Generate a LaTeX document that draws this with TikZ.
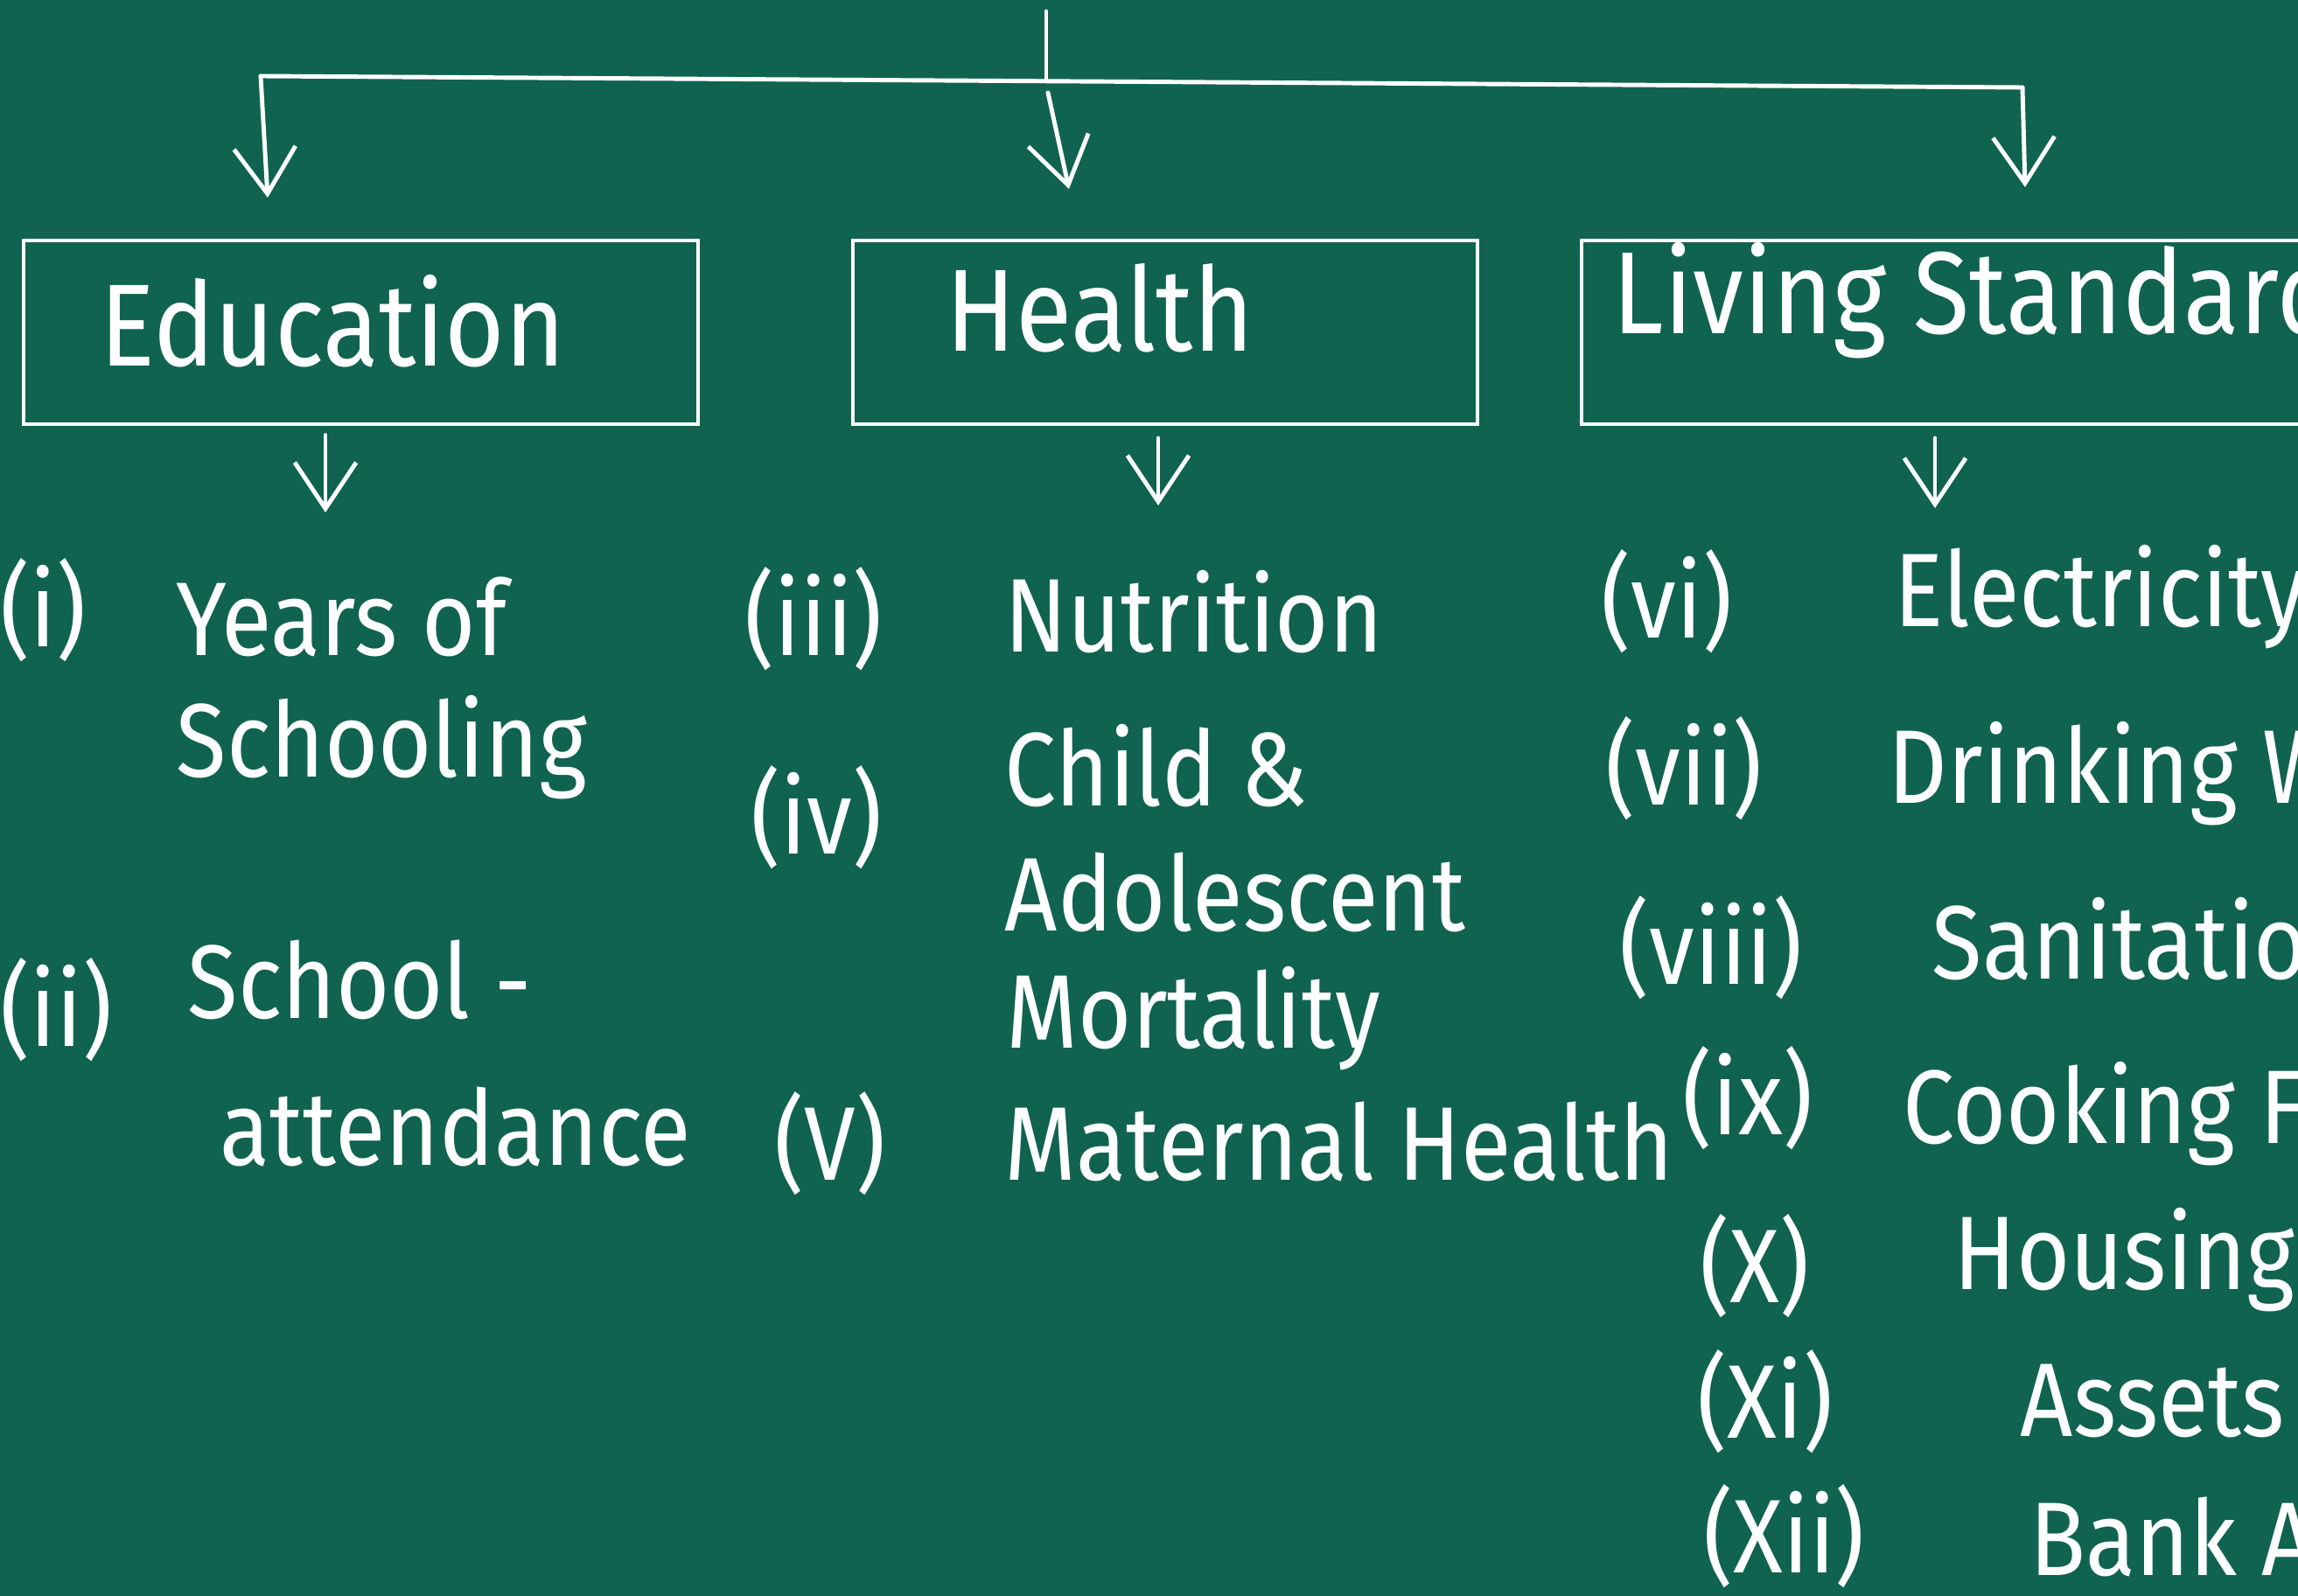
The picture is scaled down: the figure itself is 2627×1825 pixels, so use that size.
\documentclass[tikz,border=0pt]{standalone}
\usepackage{fontspec}
\setmainfont[FakeStretch=0.88]{Fira Sans}
\usetikzlibrary{arrows.meta, positioning}
\definecolor{board}{RGB}{16,99,79}

\begin{document}
\begin{tikzpicture}[x=0.01cm, y=-0.01cm,
    chalk/.style={white, line width=1.4pt, line cap=round},
    chalkarrow/.style={chalk, -{Straight Barb[length=15pt, width=20pt]}},
    catbox/.style={draw=white, line width=1.1pt, minimum height=2.1cm, inner sep=0pt, anchor=north west},
    headtxt/.style={white, font=\fontsize{38}{44}\selectfont, anchor=base west, inner sep=0pt},
    itemtxt/.style={white, font=\fontsize{34}{40}\selectfont, anchor=base west, inner sep=0pt}]
    \useasboundingbox (0,0) rectangle (2627,1825);
    \clip (0,0) rectangle (2627,1825);
    \fill[board] (0,0) rectangle (2627,1825);% board

    \coordinate (Top)  at (1196,13);
    \coordinate (BarM) at (1196,92);
    \coordinate (BarL) at (298,87);
    \coordinate (BarR) at (2312,100);
    \coordinate (EduTip) at (306,226);
    \coordinate (HeaTop) at (1198,106);
    \coordinate (HeaTip) at (1222,216);
    \coordinate (LivTip) at (2315,214);

    % category boxes
    \node[catbox, minimum width=7.71cm] (edubox) at (25,273) {};
    \node[catbox, minimum width=7.14cm] (heabox) at (973,273) {};
    \node[catbox, minimum width=9.5cm]  (livbox) at (1806,273) {};
    \node[headtxt] (edutxt) at (114,419) {Education};
    \node[headtxt] (heatxt) at (1081,402) {Health};
    \node[headtxt] (livtxt) at (1843,382) {Living Standards};

    % branches from the top
    \draw[chalk] (Top) -- (BarM);
    \draw[chalk] (BarL) -- (BarR);
    \draw[chalkarrow] (BarL) -- (EduTip);
    \draw[chalkarrow] (HeaTop) -- (HeaTip);
    \draw[chalkarrow] (BarR) -- (LivTip);

    \coordinate (EduDown) at (372,586);
    \coordinate (HeaDown) at (1324,578);
    \coordinate (LivDown) at (2212,581);
    \draw[chalkarrow, shorten <=3pt] (edubox.south -| EduDown) -- (EduDown);
    \draw[chalkarrow, shorten <=4pt] (heabox.south -| HeaDown) -- (HeaDown);
    \draw[chalkarrow, shorten <=4pt] (livbox.south -| LivDown) -- (LivDown);

    % education
    \node[itemtxt] (n1)  at (0,739)   {(i)};
    \node[itemtxt] (i1a) at (201,750) {Years of};
    \node[itemtxt] (i1b) at (201,888) {Schooling};
    \node[itemtxt] (n2)  at (0,1196)  {(ii)};
    \node[itemtxt] (i2a) at (214,1164) {School -};
    \node[itemtxt] (i2b) at (251,1332) {attendance};

    % health
    \node[itemtxt] (n3)  at (851,750)  {(iii)};
    \node[itemtxt] (i3)  at (1148,745) {Nutrition};
    \node[itemtxt] (n4)  at (858,976)  {(iv)};
    \node[itemtxt] (i4a) at (1148,921) {Child \&};
    \node[itemtxt] (i4b) at (1148,1064) {Adolescent};
    \node[itemtxt] (i4c) at (1150,1198) {Mortality};
    \node[itemtxt] (n5)  at (885,1349) {(V)};
    \node[itemtxt] (i5)  at (1148,1349) {Maternal Health};

    % living standards
    \node[itemtxt] (n6)  at (1830,730)  {(vi)};
    \node[itemtxt] (i6)  at (2165,717)  {Electricity};
    \node[itemtxt] (n7)  at (1835,920)  {(vii)};
    \node[itemtxt] (i7)  at (2158,918)  {Drinking Water};
    \node[itemtxt] (n8)  at (1851,1125) {(viii)};
    \node[itemtxt] (i8)  at (2208,1119) {Sanitation};
    \node[itemtxt] (n9)  at (1923,1297) {(ix)};
    \node[itemtxt] (i9)  at (2175,1307) {Cooking Fuel};
    \node[itemtxt] (n10) at (1943,1489) {(X)};
    \node[itemtxt] (i10) at (2233,1474) {Housing};
    \node[itemtxt] (n11) at (1940,1644) {(Xi)};
    \node[itemtxt] (i11) at (2309,1642) {Assets};
    \node[itemtxt] (n12) at (1947,1798) {(Xii)};
    \node[itemtxt] (i12) at (2320,1801) {Bank Account};
\end{tikzpicture}
\end{document}
